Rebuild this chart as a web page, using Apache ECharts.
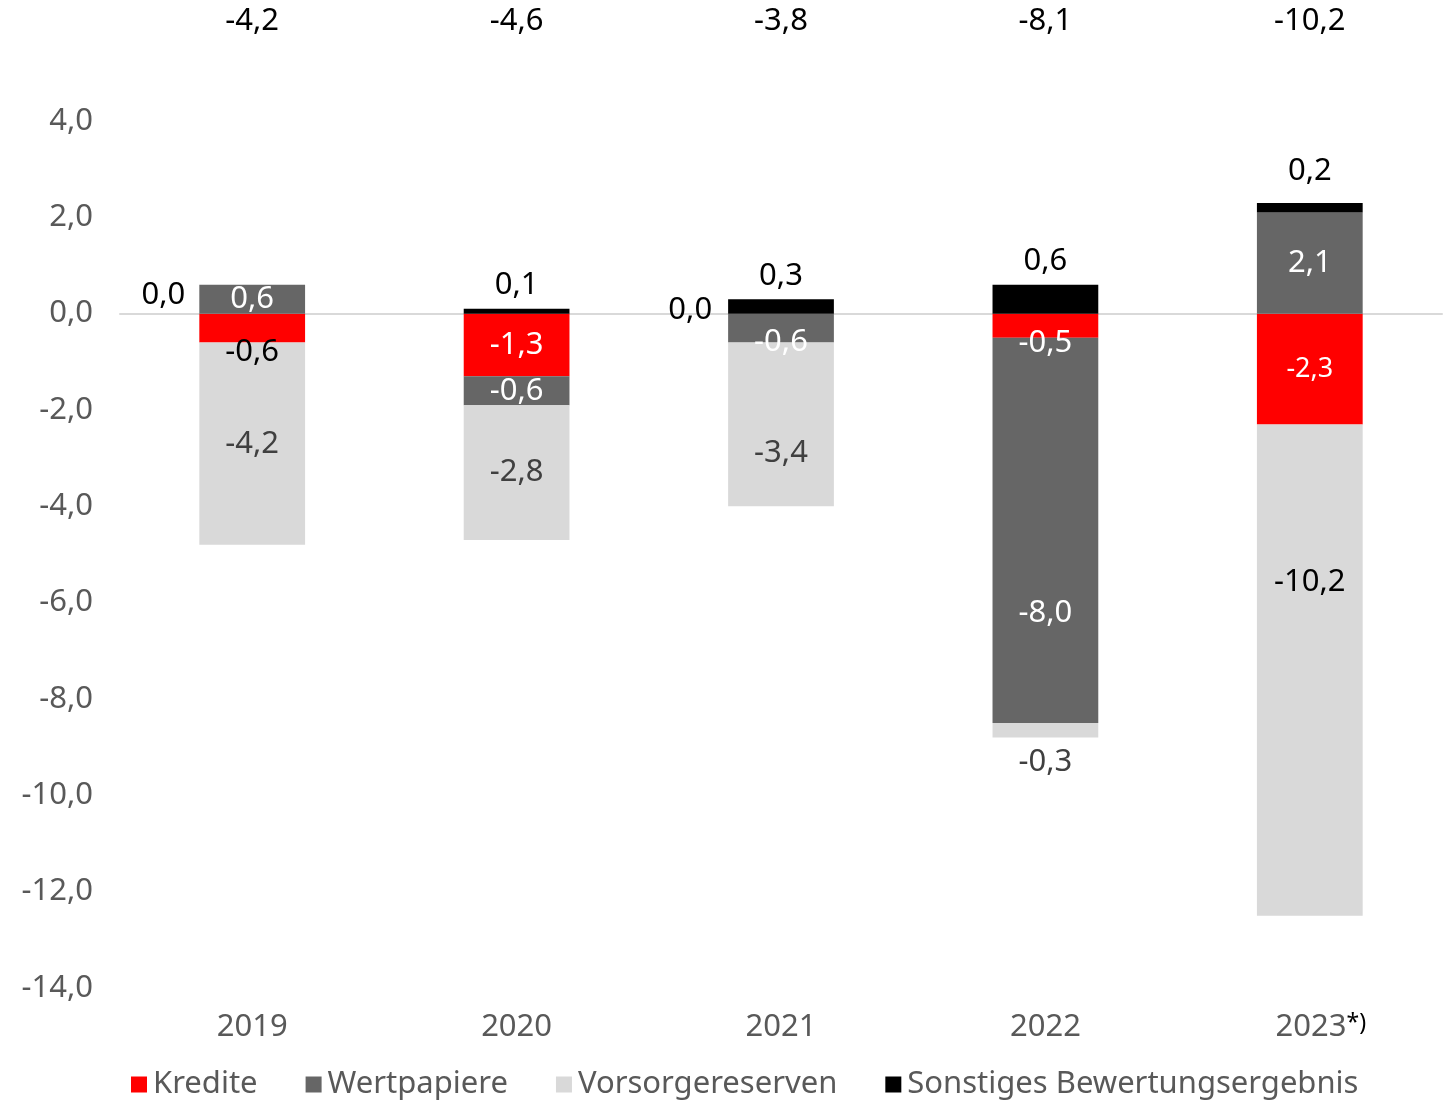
<!DOCTYPE html>
<html>
<head>
<meta charset="utf-8">
<script src="https://cdn.jsdelivr.net/npm/echarts@6/dist/echarts.min.js"></script>
<style>
  html, body { margin: 0; padding: 0; background: #fff; }
  #chart { width: 1448px; height: 1102px; }
</style>
</head>
<body>
<div id="chart"></div>
<script>
const years = ['2019', '2020', '2021', '2022', '2023'];
const kredite = [-0.6, -1.3, 0.0, -0.5, -2.3];
const wertpapiere = [0.6, -0.6, -0.6, -8.0, 2.1];
const vorsorgereserven = [-4.2, -2.8, -3.4, -0.3, -10.2];
const sonstiges = [0.0, 0.1, 0.3, 0.6, 0.2];
const totals = [-4.2, -4.6, -3.8, -8.1, -10.2];

const FONT = '"Noto Sans", sans-serif';
const FS = 31;
const fmt = (v) => v.toFixed(1).replace('.', ',');

// per-bar label adjustments (Excel moved some labels by hand)
const labelTweaks = {
  Kredite: {
    0: { color: '#000', offset: [0, 24] },
    2: { position: 'left', color: '#000', distance: 16, offset: [0, -3] },
    3: { offset: [0, 17] },
    4: { fontSize: 27 }
  },
  Wertpapiere: {
    2: { offset: [0, 14] },
    3: { offset: [0, 83] }
  },
  Vorsorgereserven: {
    2: { offset: [0, 29] },
    3: { offset: [0, 32] },
    4: { color: '#000', offset: [0, -88] }
  },
  'Sonstiges Bewertungsergebnis': {
    // zero value sits on the negative stack, lift its label back above the axis
    0: { position: 'left', distance: 14, offset: [0, -250] },
    4: { distance: 16 }
  }
};

function makeSeries(name, values, color, baseLabel) {
  const tweaks = labelTweaks[name] || {};
  return {
    name,
    type: 'bar',
    stack: 'total',
    barWidth: '40%',
    itemStyle: { color },
    label: Object.assign({
      show: true,
      fontFamily: FONT,
      fontSize: FS,
      formatter: (p) => fmt(p.value)
    }, baseLabel),
    data: values.map((v, i) => (tweaks[i] ? { value: v, label: tweaks[i] } : v))
  };
}

const chart = echarts.init(document.getElementById('chart'));

chart.setOption({
  animation: false,
  grid: { left: 120, right: 6, top: 121, bottom: 114 },
  legend: {
    bottom: -3,
    left: 126,
    itemWidth: 16,
    itemHeight: 16,
    itemGap: 48,
    icon: 'rect',
    textStyle: { fontFamily: FONT, fontSize: 31, color: '#595959', padding: [0, 0, 0, 1] },
    data: ['Kredite', 'Wertpapiere', 'Vorsorgereserven', 'Sonstiges Bewertungsergebnis']
  },
  xAxis: [
    {
      type: 'category',
      data: years,
      position: 'bottom',
      axisLine: { show: false, onZero: false },
      axisTick: { show: false },
      axisLabel: {
        interval: 0,
        hideOverlap: false,
        margin: 24,
        fontFamily: FONT,
        fontSize: FS,
        color: '#595959',
        formatter: (v) => (v === '2023' ? '{pad|}' + v + '{sup|*)}' : v),
        rich: {
          pad: { width: 22 },
          sup: { fontFamily: FONT, fontSize: 23, color: '#000', padding: [0, 0, 8, 0] }
        }
      }
    },
    {
      type: 'category',
      data: years,
      position: 'bottom',
      axisLine: { show: true, onZero: true, lineStyle: { color: '#D9D9D9', width: 2 } },
      axisTick: { show: false },
      axisLabel: { show: false }
    },
    {
      type: 'category',
      data: totals.map(fmt),
      position: 'top',
      axisLine: { show: false },
      axisTick: { show: false },
      axisLabel: { interval: 0, margin: 84, fontFamily: FONT, fontSize: FS, color: '#000' }
    }
  ],
  yAxis: {
    type: 'value',
    min: -14,
    max: 4,
    interval: 2,
    splitLine: { show: false },
    axisLine: { show: false },
    axisTick: { show: false },
    axisLabel: {
      margin: 27,
      fontFamily: FONT,
      fontSize: FS,
      color: '#595959',
      formatter: (v) => fmt(v)
    }
  },
  series: [
    makeSeries('Kredite', kredite, '#FF0000', { position: 'inside', color: '#fff' }),
    makeSeries('Wertpapiere', wertpapiere, '#666666', { position: 'inside', color: '#fff' }),
    makeSeries('Vorsorgereserven', vorsorgereserven, '#D9D9D9', { position: 'inside', color: '#404040' }),
    makeSeries('Sonstiges Bewertungsergebnis', sonstiges, '#000000', { position: 'top', color: '#000', distance: 8 })
  ]
});
</script>
</body>
</html>
